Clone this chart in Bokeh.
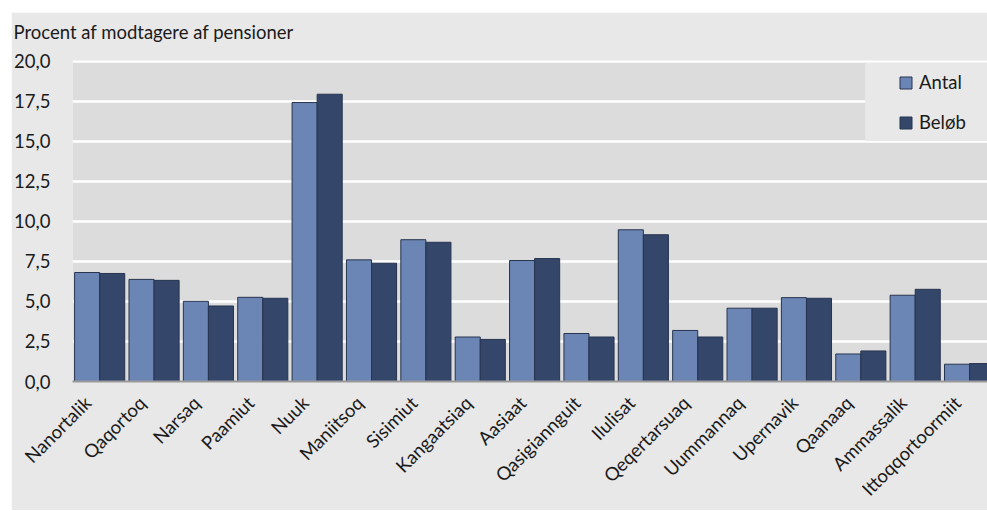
import math
from bokeh.plotting import figure
from bokeh.models import (ColumnDataSource, Range1d, FixedTicker, BoxAnnotation,
                          Legend, LegendItem, CustomJSTickFormatter)
from bokeh.transform import dodge
from bokeh.embed import file_html
from bokeh.resources import INLINE

categories = ["Nanortalik", "Qaqortoq", "Narsaq", "Paamiut", "Nuuk", "Maniitsoq",
              "Sisimiut", "Kangaatsiaq", "Aasiaat", "Qasigiannguit", "Ilulisat",
              "Qeqertarsuaq", "Uummannaq", "Upernavik", "Qaanaaq", "Ammassalik",
              "Ittoqqortoormiit"]
antal = [6.81, 6.38, 5.01, 5.26, 17.43, 7.60, 8.86, 2.78, 7.56, 3.00, 9.48,
         3.19, 4.58, 5.24, 1.72, 5.39, 1.08]
beloeb = [6.75, 6.32, 4.72, 5.20, 17.95, 7.39, 8.70, 2.63, 7.68, 2.78, 9.17,
          2.78, 4.58, 5.20, 1.91, 5.76, 1.12]
y_ticks = [0.0, 2.5, 5.0, 7.5, 10.0, 12.5, 15.0, 17.5, 20.0]
y_tick_labels = ["0,0", "2,5", "5,0", "7,5", "10,0", "12,5", "15,0", "17,5", "20,0"]
series_names = ["Antal", "Beløb"]
title_text = "Procent af modtagere af pensioner"

FONT = "Lato"
FS = "18.5px"
TXT = "#1a1a1a"
OUTER = "#e8e8e8"
INNER = "#dcdcdc"
C_ANTAL = "#6b86b4"
C_BELOEB = "#34466a"
EDGE = "#27344f"

idx = list(range(len(categories)))
src = ColumnDataSource(dict(idx=idx, cat=categories, antal=antal, beloeb=beloeb))

p = figure(width=976, height=498, output_backend="svg", toolbar_location=None,
           x_range=Range1d(-0.5, 16.33), y_range=Range1d(0, 20.87),
           min_border_left=56, min_border_right=0, min_border_top=35,
           min_border_bottom=127, margin=(12, 0, 0, 11))
p.background_fill_color = INNER
p.border_fill_color = OUTER
p.outline_line_color = None

p.title.text = title_text
p.title.align = "left"
p.title.offset = -59
p.title.standoff = 10
p.title.text_font = FONT
p.title.text_font_size = FS
p.title.text_font_style = "normal"
p.title.text_color = TXT

# band above the 20-line keeps the outer colour
p.add_layout(BoxAnnotation(bottom=20.08, fill_color=OUTER, fill_alpha=1.0,
                           line_color=None, level="underlay"))

bw = 0.461
r1 = p.vbar(x=dodge("idx", -bw / 2, range=p.x_range), top="antal", width=bw,
            source=src, fill_color=C_ANTAL, line_color=EDGE, line_width=1)
r2 = p.vbar(x=dodge("idx", bw / 2, range=p.x_range), top="beloeb", width=bw,
            source=src, fill_color=C_BELOEB, line_color=EDGE, line_width=1)

# grid
p.xgrid.grid_line_color = None
p.ygrid.ticker = FixedTicker(ticks=y_ticks)
p.ygrid.grid_line_color = "white"
p.ygrid.grid_line_width = 2.5

# y axis
p.yaxis.ticker = FixedTicker(ticks=y_ticks)
p.yaxis.major_label_overrides = {t: l for t, l in zip(y_ticks, y_tick_labels)}
p.yaxis.axis_line_color = None
p.yaxis.major_tick_line_color = None
p.yaxis.minor_tick_line_color = None
p.yaxis.major_label_standoff = 16
p.yaxis.major_label_text_font = FONT
p.yaxis.major_label_text_font_size = FS
p.yaxis.major_label_text_color = TXT

# x axis (label anchors slightly left of group centre, as in the original)
shift = 0.22
p.xaxis.ticker = FixedTicker(ticks=[i - shift for i in idx])
p.xaxis.formatter = CustomJSTickFormatter(args=dict(cats=categories, s=shift),
                                          code="return cats[Math.round(tick + s)];")
p.xaxis.major_label_orientation = math.pi / 4
p.xaxis.axis_line_color = "#9a9a9a"
p.xaxis.axis_line_width = 2
p.xaxis.major_tick_line_color = None
p.xaxis.minor_tick_line_color = None
p.xaxis.major_label_standoff = 12
p.xaxis.major_label_text_font = FONT
p.xaxis.major_label_text_font_size = FS
p.xaxis.major_label_text_color = TXT

# legend background box
p.add_layout(BoxAnnotation(left=14.08, bottom=15.03, top=19.92,
                           fill_color=OUTER, fill_alpha=1.0, line_color=None))

legend = Legend(items=[LegendItem(label=series_names[0], renderers=[r1]),
                       LegendItem(label=series_names[1], renderers=[r2])],
                location=(826, 248), orientation="vertical",
                padding=0, margin=0, spacing=18,
                glyph_width=15, glyph_height=15, label_height=20,
                label_standoff=6, background_fill_alpha=0,
                border_line_color=None,
                label_text_font=FONT, label_text_font_size=FS,
                label_text_color=TXT)
p.add_layout(legend)

open("out.html", "w").write(file_html(p, INLINE))
